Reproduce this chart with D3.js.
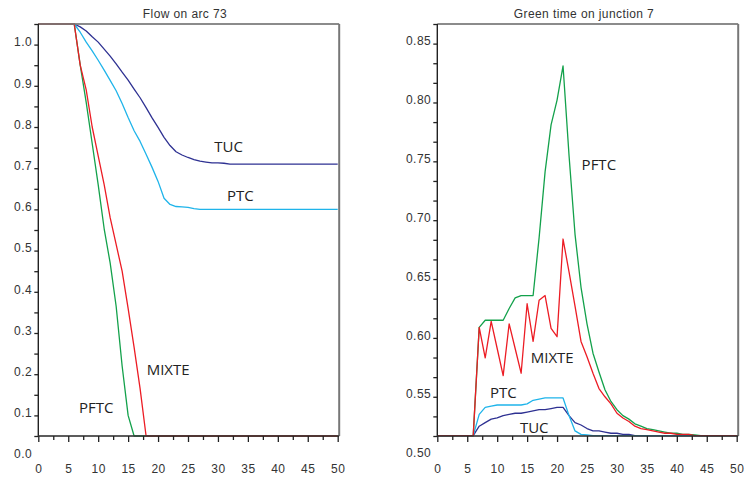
<!DOCTYPE html>
<html>
<head>
<meta charset="utf-8">
<script src="https://cdn.jsdelivr.net/npm/d3@7"></script>
<style>
  body { margin: 0; background: #fff; }
</style>
</head>
<body>
<div class="center"></div>
<script>
// time steps (x axis) 0..50
const steps = d3.range(0, 51);

// Flow on arc 73 (left panel)
const flowTUC = [
  1.05, 1.05, 1.05, 1.05, 1.05, 1.05, 1.05, 1.043, 1.033, 1.019,
  1.006, 0.989, 0.972, 0.953, 0.933, 0.914, 0.892, 0.871, 0.847, 0.822,
  0.799, 0.775, 0.755, 0.740, 0.732, 0.726, 0.721, 0.717, 0.715, 0.713,
  0.713, 0.712, 0.710, 0.710, 0.710, 0.710, 0.710, 0.710, 0.710, 0.710,
  0.710, 0.710, 0.710, 0.710, 0.710, 0.710, 0.710, 0.710, 0.710, 0.710,
  0.710];
const flowPTC = [
  1.05, 1.05, 1.05, 1.05, 1.05, 1.05, 1.05, 1.030, 1.006, 0.985,
  0.962, 0.938, 0.913, 0.888, 0.857, 0.823, 0.791, 0.765, 0.734, 0.702,
  0.668, 0.627, 0.612, 0.607, 0.606, 0.605, 0.602, 0.600, 0.600, 0.600,
  0.600, 0.600, 0.600, 0.600, 0.600, 0.600, 0.600, 0.600, 0.600, 0.600,
  0.600, 0.600, 0.600, 0.600, 0.600, 0.600, 0.600, 0.600, 0.600, 0.600,
  0.600];
const flowPFTC = [
  1.05, 1.05, 1.05, 1.05, 1.05, 1.05, 1.05, 0.950, 0.860, 0.760,
  0.660, 0.553, 0.470, 0.365, 0.220, 0.100, 0.050, 0.050, 0.050, 0.050,
  0.050, 0.050, 0.050, 0.050, 0.050, 0.050, 0.050, 0.050, 0.050, 0.050,
  0.050, 0.050, 0.050, 0.050, 0.050, 0.050, 0.050, 0.050, 0.050, 0.050,
  0.050, 0.050, 0.050, 0.050, 0.050, 0.050, 0.050, 0.050, 0.050, 0.050,
  0.050];
const flowMIXTE = [
  1.05, 1.05, 1.05, 1.05, 1.05, 1.05, 1.05, 0.950, 0.890, 0.800,
  0.730, 0.660, 0.580, 0.515, 0.450, 0.360, 0.265, 0.165, 0.050, 0.050,
  0.050, 0.050, 0.050, 0.050, 0.050, 0.050, 0.050, 0.050, 0.050, 0.050,
  0.050, 0.050, 0.050, 0.050, 0.050, 0.050, 0.050, 0.050, 0.050, 0.050,
  0.050, 0.050, 0.050, 0.050, 0.050, 0.050, 0.050, 0.050, 0.050, 0.050,
  0.050];

// Green time on junction 7 (right panel)
const greenTUC = [
  0.517, 0.517, 0.517, 0.517, 0.517, 0.517, 0.517, 0.525, 0.528, 0.531,
  0.532, 0.534, 0.535, 0.536, 0.536, 0.537, 0.538, 0.539, 0.539, 0.540,
  0.541, 0.541, 0.534, 0.528, 0.526, 0.523, 0.521, 0.521, 0.520, 0.519,
  0.519, 0.518, 0.518, 0.517, 0.517, 0.517, 0.517, 0.517, 0.517, 0.517,
  0.517, 0.517, 0.517, 0.517, 0.517, 0.517, 0.517, 0.517, 0.517, 0.517,
  0.517];
const greenPTC = [
  0.517, 0.517, 0.517, 0.517, 0.517, 0.517, 0.517, 0.535, 0.541, 0.542,
  0.543, 0.543, 0.543, 0.543, 0.543, 0.544, 0.547, 0.548, 0.549, 0.549,
  0.549, 0.549, 0.534, 0.521, 0.518, 0.5175, 0.517, 0.517, 0.517, 0.517,
  0.517, 0.517, 0.517, 0.517, 0.517, 0.517, 0.517, 0.517, 0.517, 0.517,
  0.517, 0.517, 0.517, 0.517, 0.517, 0.517, 0.517, 0.517, 0.517, 0.517,
  0.517];
const greenPFTC = [
  0.517, 0.517, 0.517, 0.517, 0.517, 0.517, 0.517, 0.609, 0.615, 0.615,
  0.615, 0.615, 0.625, 0.634, 0.636, 0.636, 0.636, 0.685, 0.741, 0.781,
  0.802, 0.831, 0.755, 0.688, 0.643, 0.612, 0.587, 0.571, 0.556, 0.546,
  0.539, 0.534, 0.531, 0.527, 0.525, 0.523, 0.522, 0.521, 0.520, 0.519,
  0.519, 0.518, 0.518, 0.5175, 0.517, 0.517, 0.517, 0.517, 0.517, 0.517,
  0.517];
const greenMIXTE = [
  0.517, 0.517, 0.517, 0.517, 0.517, 0.517, 0.517, 0.609, 0.583, 0.614,
  0.591, 0.568, 0.612, 0.591, 0.570, 0.629, 0.597, 0.632, 0.636, 0.608,
  0.601, 0.684, 0.656, 0.627, 0.597, 0.584, 0.570, 0.557, 0.550, 0.544,
  0.536, 0.532, 0.529, 0.525, 0.523, 0.522, 0.521, 0.520, 0.519, 0.519,
  0.518, 0.518, 0.518, 0.517, 0.517, 0.517, 0.517, 0.517, 0.517, 0.517,
  0.517];

// tick labels
const xTickLabels = [0, 5, 10, 15, 20, 25, 30, 35, 40, 45, 50];
const flowTickLabels = [0.0, 0.1, 0.2, 0.3, 0.4, 0.5, 0.6, 0.7, 0.8, 0.9, 1.0];
const greenTickLabels = [0.50, 0.55, 0.60, 0.65, 0.70, 0.75, 0.80, 0.85];

const seriesNames = ["TUC", "PTC", "PFTC", "MIXTE"];
const colors = {TUC: "#2e3192", PTC: "#1fb4ea", PFTC: "#13a14b", MIXTE: "#ec1c24"};

const width = 746, height = 479;
const plotTop = 24, plotBottom = 436;

const svg = d3.select(".center").append("svg")
  .attr("width", width)
  .attr("height", height)
  .style("font-family", "'Liberation Sans', Arial, sans-serif");

function drawPanel(p) {
  const xScale = d3.scaleLinear().domain([0, 50]).range(p.xRange);
  const yScale = d3.scaleLinear().domain(p.yDomain).range([plotBottom, plotTop]);

  const g = svg.append("g");

  // lines
  const line = d3.line()
    .x((d, i) => xScale(steps[i]))
    .y(d => yScale(d));

  seriesNames.forEach(name => {
    g.append("path")
      .datum(p.series[name])
      .attr("fill", "none")
      .attr("stroke", colors[name])
      .attr("stroke-width", 1.3)
      .attr("stroke-linejoin", "round")
      .attr("d", line);
  });

  // frame: top + right in grey, left + bottom dark
  const x0 = p.xRange[0], x1 = p.xRange[1] + 1.5;
  g.append("line").attr("x1", x0).attr("x2", x1).attr("y1", plotTop).attr("y2", plotTop)
    .attr("stroke", "#777").attr("stroke-width", 2).attr("stroke-opacity", 0.85);
  g.append("line").attr("x1", x1).attr("x2", x1).attr("y1", plotTop).attr("y2", plotBottom)
    .attr("stroke", "#777").attr("stroke-width", 2);
  g.append("line").attr("x1", x0).attr("x2", x0).attr("y1", plotTop).attr("y2", plotBottom)
    .attr("stroke", "#222").attr("stroke-width", 1.4);
  g.append("line").attr("x1", x0).attr("x2", x1).attr("y1", plotBottom).attr("y2", plotBottom)
    .attr("stroke", "#333").attr("stroke-width", 2).attr("stroke-opacity", 0.8);

  // x axis: major ticks, minor ticks, labels
  const xMajor = d3.axisBottom(xScale).tickValues(xTickLabels).tickSize(6).tickFormat("");
  const xMinor = d3.axisBottom(xScale).tickValues(d3.range(2.5, 50, 5)).tickSize(4).tickFormat("");
  const xLabels = d3.axisBottom(xScale).tickValues(xTickLabels).tickSize(0).tickPadding(28)
    .tickFormat(d3.format("d"));

  [xMajor, xMinor, xLabels].forEach(ax => {
    const a = g.append("g").attr("transform", `translate(0,${plotBottom})`).call(ax);
    a.select(".domain").remove();
    a.selectAll("line").attr("stroke", "#222").attr("stroke-width", 1.3);
    a.selectAll("text").style("font-size", "12px").style("letter-spacing", "0.5px").attr("fill", "#333");
  });

  // y axis: ticks at every minor step, labels separately
  const yTicks = d3.axisLeft(yScale).tickValues(p.yMinor).tickSize(4).tickFormat("");
  const yLabels = d3.axisLeft(yScale).tickValues(p.yLabels).tickSize(0).tickPadding(6)
    .tickFormat(d3.format(p.fmt));

  [yTicks, yLabels].forEach(ax => {
    const a = g.append("g").attr("transform", `translate(${x0},0)`).call(ax);
    a.select(".domain").remove();
    a.selectAll("line").attr("stroke", "#222").attr("stroke-width", 1.3);
    a.selectAll("text").attr("dy", "0.1em").style("font-size", "12px")
      .style("letter-spacing", "0.5px").attr("fill", "#333");
  });

  // title
  g.append("text")
    .text(p.title)
    .attr("x", (p.xRange[0] + p.xRange[1]) / 2 - 3)
    .attr("y", 18)
    .attr("text-anchor", "middle")
    .style("font-size", "12px")
    .style("letter-spacing", "0.4px")
    .attr("fill", "#333");

  // series labels
  p.labels.forEach(l => {
    g.append("text")
      .text(l.name)
      .attr("x", xScale(l.t))
      .attr("y", yScale(l.v))
      .style("font-family", "'Open Sans', sans-serif")
      .style("font-size", "15px")
      .attr("fill", "#222");
  });
}

drawPanel({
  title: "Flow on arc 73",
  xRange: [38.3, 337.7],
  yDomain: [0.05, 1.05],
  yMinor: d3.range(1, 22).map(i => i * 0.05),
  yLabels: flowTickLabels,
  fmt: ".1f",
  series: {TUC: flowTUC, PTC: flowPTC, PFTC: flowPFTC, MIXTE: flowMIXTE},
  labels: [
    {name: "TUC", t: 29.4, v: 0.739},
    {name: "PTC", t: 31.5, v: 0.621},
    {name: "MIXTE", t: 18.1, v: 0.198},
    {name: "PFTC", t: 6.8, v: 0.107}
  ]
});

drawPanel({
  title: "Green time on junction 7",
  xRange: [437.3, 736.7],
  yDomain: [0.5 + 1 / 60, 0.85 + 1 / 60],
  yMinor: d3.range(1, 23).map(i => 0.5 + i / 60),
  yLabels: greenTickLabels,
  fmt: ".2f",
  series: {TUC: greenTUC, PTC: greenPTC, PFTC: greenPFTC, MIXTE: greenMIXTE},
  labels: [
    {name: "PFTC", t: 24.1, v: 0.7424},
    {name: "MIXTE", t: 15.6, v: 0.579},
    {name: "PTC", t: 8.8, v: 0.5487},
    {name: "TUC", t: 13.8, v: 0.519}
  ]
});
</script>
</body>
</html>
